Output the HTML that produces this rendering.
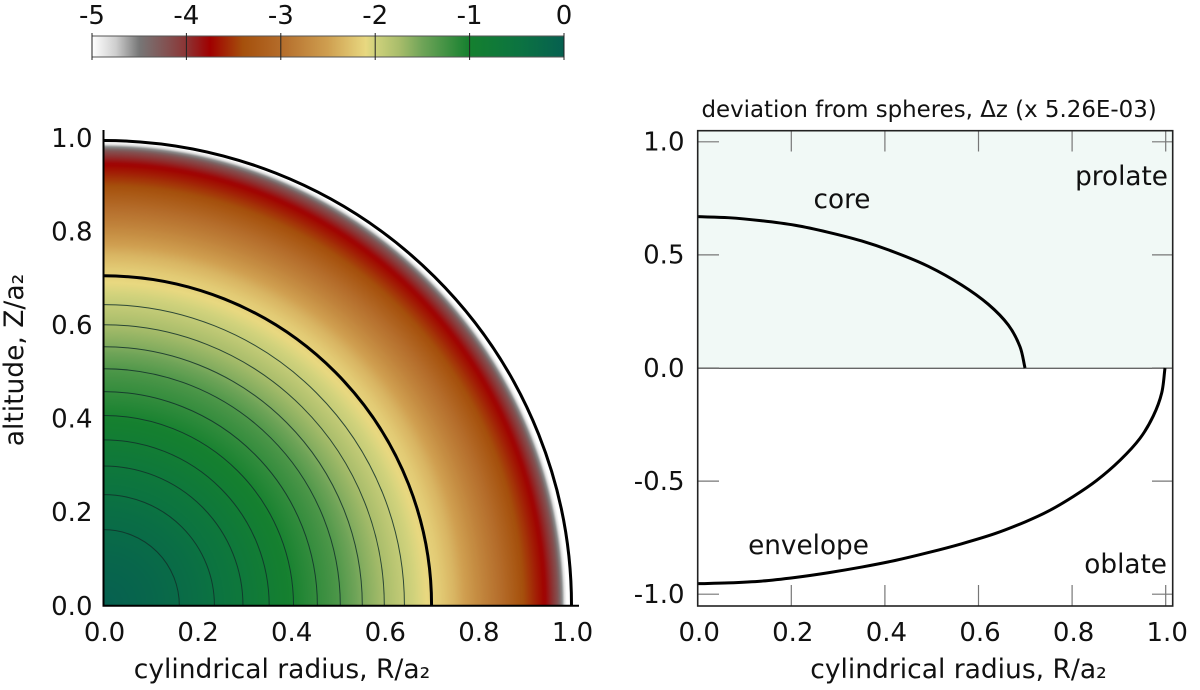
<!DOCTYPE html>
<html lang="en">
<head>
<meta charset="utf-8">
<title>Deviation from spheres</title>
<style>
html,body{margin:0;padding:0;background:#fff;}
svg{display:block;}
text{font-family:"DejaVu Sans","Liberation Sans",sans-serif;fill:#111;}
</style>
</head>
<body>
<svg id="fig" xmlns="http://www.w3.org/2000/svg" width="1200" height="690" viewBox="0 0 1200 690">
  <defs>
    <linearGradient id="cbar-gradient" gradientUnits="userSpaceOnUse" x1="92" y1="0" x2="564" y2="0"></linearGradient>
    <radialGradient id="field-gradient" gradientUnits="userSpaceOnUse"></radialGradient>
    <clipPath id="left-clip"><rect x="103.5" y="130" width="476" height="475.5"></rect></clipPath>
  </defs>
  <g id="colorbar"></g>
  <g id="left-plot"></g>
  <g id="right-plot"></g>
  <text x="282" y="678" font-size="26.5" text-anchor="middle">cylindrical radius, R/a₂</text>
  <text transform="translate(23,360) rotate(-90)" font-size="26.5" text-anchor="middle">altitude, Z/a₂</text>
  <text x="958.5" y="678" font-size="26.5" text-anchor="middle">cylindrical radius, R/a₂</text>
  <text x="701.5" y="117" font-size="22.9">deviation from spheres, Δz (x 5.26E-03)</text>
  <text x="842" y="208" font-size="26.3" text-anchor="middle">core</text>
  <text x="1168" y="185" font-size="26.3" text-anchor="end">prolate</text>
  <text x="808.5" y="554" font-size="26.3" text-anchor="middle">envelope</text>
  <text x="1167" y="573" font-size="26.3" text-anchor="end">oblate</text>
</svg>
<script>
// Colour scale
const cmapValues = [-5, -4.75, -4.5, -4.2, -4, -3.75, -3.4, -3, -2.5, -2.1, -2, -1.75, -1.5, -1, -0.5, 0];
const cmapColors = ['#ffffff', '#cfcfcf', '#777777', '#835050', '#8c3434', '#a00000', '#a5500c', '#b46c2a', '#cf9f50', '#e8d880', '#d0d27c', '#a9bd6b', '#6fa458', '#15802f', '#0c7440', '#066050'];
const cbarTicks = [-5, -4, -3, -2, -1, 0];

// Left panel: radial field profile
const fieldRadii = [0, 0.1, 0.2, 0.3, 0.38, 0.45, 0.5, 0.55, 0.6, 0.65, 0.69, 0.72, 0.75, 0.8, 0.85, 0.89, 0.92, 0.943, 0.96, 0.97, 0.979, 0.988];
const fieldValues = [0, -0.15, -0.35, -0.65, -0.95, -1.15, -1.3, -1.55, -1.75, -1.95, -2.1, -2.2, -2.35, -2.7, -3, -3.35, -3.58, -3.75, -4, -4.2, -4.5, -5];
const contourRadii = [0.162, 0.237, 0.298, 0.354, 0.406, 0.457, 0.506, 0.553, 0.6, 0.643];
const coreSemiAxes = [0.701, 0.7045];
const surfaceSemiAxes = [1.0, 0.9936];
const leftTicks = [0, 0.2, 0.4, 0.6, 0.8, 1];

// Right panel: deviation curves
const coreR = [0, 0.0654, 0.1367, 0.2079, 0.279, 0.3504, 0.4216, 0.4927, 0.564, 0.621, 0.6637, 0.6887, 0.6994];
const coreDz = [0.669, 0.6645, 0.651, 0.631, 0.6, 0.5615, 0.5113, 0.4495, 0.367, 0.2815, 0.19, 0.094, 0];
const envelopeR = [0, 0.0654, 0.1367, 0.2079, 0.279, 0.3504, 0.4216, 0.4927, 0.564, 0.6353, 0.7, 0.75, 0.8026, 0.8525, 0.9023, 0.945, 0.9735, 0.9915, 0.9985];
const envelopeDz = [-0.9535, -0.95, -0.942, -0.926, -0.905, -0.88, -0.851, -0.816, -0.777, -0.732, -0.68, -0.632, -0.568, -0.497, -0.408, -0.311, -0.212, -0.11, 0];
const rightXTicks = [0, 0.2, 0.4, 0.6, 0.8, 1];
const rightYTicks = [1, 0.5, 0, -0.5, -1];

const NS = 'http://www.w3.org/2000/svg';
const cbX = v => 92 + (v + 5) * 94.4;
const leftX = r => 103.5 + r * 468;
const leftY = z => 605.5 - z * 468;
const rightX = r => 697.7 + r * 468;
const rightY = d => 368 - d * 226.2;

function make(parent, tag, attrs) {
  const el = document.createElementNS(NS, tag);
  for (const k in attrs) el.setAttribute(k, attrs[k]);
  parent.appendChild(el);
  return el;
}
function hexToRgb(h) {
  return [parseInt(h.slice(1, 3), 16), parseInt(h.slice(3, 5), 16), parseInt(h.slice(5, 7), 16)];
}
function interp(xs, ys, x) {
  if (x <= xs[0]) return ys[0];
  for (let i = 1; i < xs.length; i++) {
    if (x <= xs[i]) return ys[i - 1] + (ys[i] - ys[i - 1]) * (x - xs[i - 1]) / (xs[i] - xs[i - 1]);
  }
  return ys[ys.length - 1];
}
function colorOf(v) {
  let i = 1;
  while (i < cmapValues.length - 1 && v > cmapValues[i]) i++;
  const t = Math.max(0, Math.min(1, (v - cmapValues[i - 1]) / (cmapValues[i] - cmapValues[i - 1])));
  const a = hexToRgb(cmapColors[i - 1]);
  const b = hexToRgb(cmapColors[i]);
  return 'rgb(' + a.map((c, k) => Math.round(c + (b[k] - c) * t)).join(',') + ')';
}
function smoothPath(px, py) {
  const n = px.length;
  const dist = i => Math.hypot(px[i + 1] - px[i], py[i + 1] - py[i]);
  const tangent = i => {
    if (i === 0) return [(px[1] - px[0]) / dist(0), (py[1] - py[0]) / dist(0)];
    if (i === n - 1) return [(px[n - 1] - px[n - 2]) / dist(n - 2), (py[n - 1] - py[n - 2]) / dist(n - 2)];
    const s = dist(i - 1) + dist(i);
    return [(px[i + 1] - px[i - 1]) / s, (py[i + 1] - py[i - 1]) / s];
  };
  let d = 'M' + px[0].toFixed(2) + ' ' + py[0].toFixed(2);
  for (let i = 0; i < n - 1; i++) {
    const h = dist(i) / 3, a = tangent(i), b = tangent(i + 1);
    d += 'C' + (px[i] + a[0] * h).toFixed(2) + ' ' + (py[i] + a[1] * h).toFixed(2) + ' ' + (px[i + 1] - b[0] * h).toFixed(2) + ' ' + (py[i + 1] - b[1] * h).toFixed(2) + ' ' + px[i + 1].toFixed(2) + ' ' + py[i + 1].toFixed(2);
  }
  return d;
}
function quarterArc(rx, ry) {
  return 'M' + leftX(rx) + ' ' + leftY(0) + 'A' + (rx * 468) + ' ' + (ry * 468) + ' 0 0 0 ' + leftX(0) + ' ' + leftY(ry);
}

/* colorbar */
const cbarGrad = document.getElementById('cbar-gradient');
cmapValues.forEach((v, i) => {
  make(cbarGrad, 'stop', { offset: (v + 5) / 5, 'stop-color': cmapColors[i] });
});
const cbar = document.getElementById('colorbar');
const cbarRect = make(cbar, 'rect', { x: 92, y: 36, width: 472, height: 21, fill: 'url(#cbar-gradient)', stroke: '#555', 'stroke-width': 1 });


cbarTicks.forEach(v => {
  const tick = make(cbar, 'line', { x1: cbX(v), x2: cbX(v), y1: 33, y2: 60, stroke: '#222', 'stroke-width': 1 });
  
  
  const label = make(cbar, 'text', { x: cbX(v), y: 24, 'font-size': 26, 'text-anchor': 'middle' });
  label.textContent = String(v);
  
  
});

/* left panel */
const left = document.getElementById('left-plot');
const fieldGrad = document.getElementById('field-gradient');
const fieldMax = 1.0;
fieldGrad.setAttribute('cx', leftX(0));
fieldGrad.setAttribute('cy', leftY(0));
fieldGrad.setAttribute('r', fieldMax * 468);
for (let i = 0; i <= 200; i++) {
  const r = i / 200 * fieldMax;
  make(fieldGrad, 'stop', { offset: i / 200, 'stop-color': colorOf(interp(fieldRadii, fieldValues, r)) });
}
const field = make(left, 'rect', { x: 103.5, y: 130, width: 476, height: 475.5, fill: 'url(#field-gradient)', 'clip-path': 'url(#left-clip)' });


contourRadii.forEach(r => {
  const c = make(left, 'path', { d: quarterArc(r, r), fill: 'none', stroke: '#12302a', 'stroke-opacity': 0.85, 'stroke-width': 1 });
  
  
});
const coreArc = make(left, 'path', { d: quarterArc(coreSemiAxes[0], coreSemiAxes[1]), fill: 'none', stroke: '#000', 'stroke-width': 3 });


const surfaceArc = make(left, 'path', { d: quarterArc(surfaceSemiAxes[0], surfaceSemiAxes[1]), fill: 'none', stroke: '#000', 'stroke-width': 3 });


const leftYAxis = make(left, 'line', { x1: 103.5, x2: 103.5, y1: 130, y2: 606, stroke: '#000', 'stroke-width': 2 });


const leftXAxis = make(left, 'line', { x1: 102.5, x2: 579, y1: 605.7, y2: 605.7, stroke: '#000', 'stroke-width': 2 });


leftTicks.forEach(t => {
  const xl = make(left, 'text', { x: leftX(t) + 1, y: 641, 'font-size': 26, 'text-anchor': 'middle' });
  xl.textContent = t.toFixed(1);
  
  
  const yl = make(left, 'text', { x: 92.5, y: leftY(t) + 9.3, 'font-size': 26, 'text-anchor': 'end' });
  yl.textContent = t.toFixed(1);
  
  
});

/* right panel */
const right = document.getElementById('right-plot');
const prolateBg = make(right, 'rect', { x: 697.7, y: 130.7, width: 475, height: rightY(0) - 130.7, fill: '#f1f9f6' });


const zeroLine = make(right, 'line', { x1: 697.7, x2: 1172.7, y1: rightY(0) + 0.3, y2: rightY(0) + 0.3, stroke: '#666', 'stroke-width': 1.3 });


rightXTicks.forEach(t => {
  const top = make(right, 'line', { x1: rightX(t), x2: rightX(t), y1: 130.7, y2: 151.5, stroke: '#777', 'stroke-width': 1.2 });
  
  
  const bottom = make(right, 'line', { x1: rightX(t), x2: rightX(t), y1: 585, y2: 606, stroke: '#777', 'stroke-width': 1.2 });
  
  
  const xl = make(right, 'text', { x: rightX(t) + 1.5, y: 641, 'font-size': 26, 'text-anchor': 'middle' });
  xl.textContent = t.toFixed(1);
  
  
});
rightYTicks.forEach(t => {
  const l = make(right, 'line', { x1: 697.7, x2: 719, y1: rightY(t), y2: rightY(t), stroke: '#777', 'stroke-width': 1.2 });
  
  
  const r = make(right, 'line', { x1: 1152, x2: 1172.7, y1: rightY(t), y2: rightY(t), stroke: '#777', 'stroke-width': 1.2 });
  
  
  const yl = make(right, 'text', { x: 684.5, y: rightY(t) + 8.8, 'font-size': 26, 'text-anchor': 'end' });
  yl.textContent = t.toFixed(1);
  
  
});
const coreCurve = make(right, 'path', { d: smoothPath(coreR.map(rightX), coreDz.map(rightY)), fill: 'none', stroke: '#000', 'stroke-width': 3 });


const envelopeCurve = make(right, 'path', { d: smoothPath(envelopeR.map(rightX), envelopeDz.map(rightY)), fill: 'none', stroke: '#000', 'stroke-width': 3 });


const frame = make(right, 'rect', { x: 697.7, y: 130.7, width: 475, height: 475.3, fill: 'none', stroke: '#222', 'stroke-width': 1.6 });


</script>
</body>
</html>
